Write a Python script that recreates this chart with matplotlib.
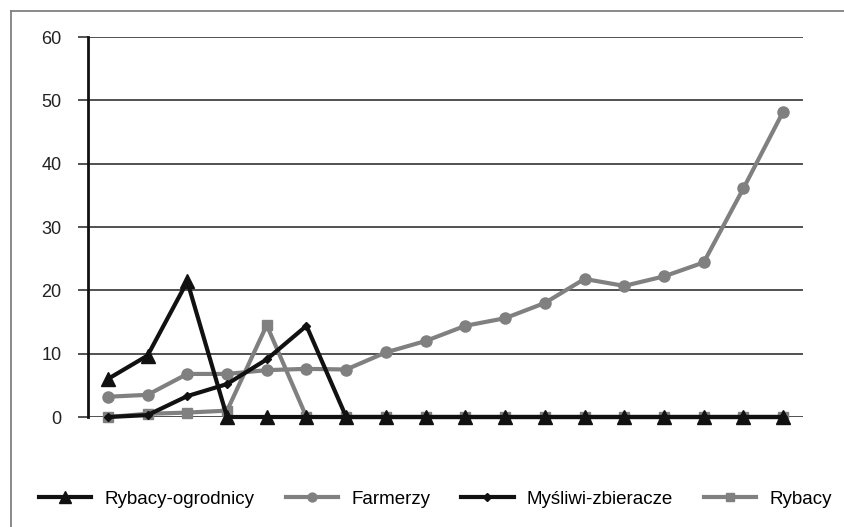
import numpy as np
import matplotlib.pyplot as plt
from matplotlib.lines import Line2D

plt.rcParams['font.family'] = ['Liberation Sans', 'DejaVu Sans']

# data (18 unnamed periods)
x = np.arange(18)
rybacy_ogrodnicy = [6.0, 9.7, 21.4, 0, 0, 0, 0, 0, 0, 0, 0, 0, 0, 0, 0, 0, 0, 0]
farmerzy = [3.2, 3.5, 6.8, 6.8, 7.4, 7.6, 7.5, 10.2, 12.0, 14.4, 15.6, 18.0,
            21.8, 20.7, 22.2, 24.4, 36.1, 48.2]
mysliwi = [0, 0.3, 3.3, 5.2, 9.1, 14.4, 0, 0, 0, 0, 0, 0, 0, 0, 0, 0, 0, 0]
rybacy = [0, 0.5, 0.7, 1.0, 14.5, 0, 0, 0, 0, 0, 0, 0, 0, 0, 0, 0, 0, 0]
names = ['Rybacy-ogrodnicy', 'Farmerzy', 'Myśliwi-zbieracze', 'Rybacy']

black = '#111111'
gray = '#808080'

fig = plt.figure(figsize=(8.44, 5.27), dpi=100)
ax = fig.add_axes([88/844, 110/527, 715/844, 380/527])

# outer frame (only left and top edges are visible in the source)
fig.add_artist(Line2D([11/844, 11/844], [0, 1 - 11/527], color=gray, lw=1.3,
                      transform=fig.transFigure))
fig.add_artist(Line2D([11/844, 1], [1 - 11/527, 1 - 11/527], color=gray, lw=1.3,
                      transform=fig.transFigure))

for v in range(0, 61, 10):
    ax.axhline(v, color='#222222', lw=1.1, zorder=1)

h4, = ax.plot(x, rybacy, color=gray, lw=3, marker='s', ms=7, zorder=2, clip_on=False)
h2, = ax.plot(x, farmerzy, color=gray, lw=3, marker='o', ms=8, zorder=3, clip_on=False)
h3, = ax.plot(x, mysliwi, color=black, lw=3, marker='D', ms=4.5, zorder=4, clip_on=False)
h1, = ax.plot(x, rybacy_ogrodnicy, color=black, lw=3, marker='^', ms=10, zorder=5,
              clip_on=False)

ax.set_xlim(-0.5, 17.5)
ax.set_ylim(0, 60)
ax.set_yticks(range(0, 61, 10))
ax.set_xticks([])
for s in ['top', 'right', 'bottom']:
    ax.spines[s].set_visible(False)
ax.spines['left'].set_linewidth(2)
ax.spines['left'].set_color(black)
ax.tick_params(axis='y', length=7, width=1.1, color='#222222', pad=12,
               labelsize=13, labelcolor='#222222')

leg = fig.legend([h1, h2, h3, h4], names, loc='center', ncol=4,
                 bbox_to_anchor=(0.516, 28/527), frameon=False, fontsize=13.5,
                 handlelength=2.8, handletextpad=0.7, columnspacing=1.65,
                 numpoints=1, markerscale=0.8)

fig.savefig('out.png', dpi=100)
